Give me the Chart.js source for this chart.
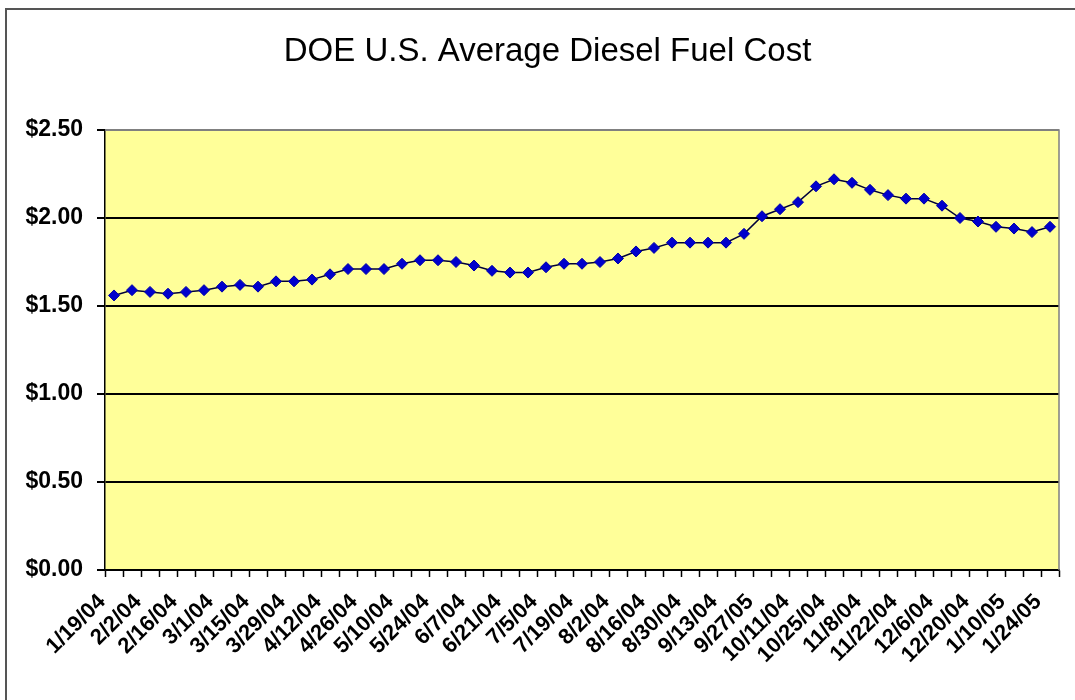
<!DOCTYPE html>
<html>
<head>
<meta charset="utf-8">
<script src="https://cdn.jsdelivr.net/npm/chart.js@4.4.1/dist/chart.umd.min.js"></script>
<style>
  html, body { margin: 0; padding: 0; background: #fff; overflow: hidden; }
  #wrap { position: relative; width: 1075px; height: 700px; }
  #frame { position: absolute; left: 5px; top: 8px; width: 2000px; height: 2000px;
           border-left: 2px solid #555; border-top: 2px solid #555; pointer-events: none; }
  canvas { position: absolute; left: 0; top: 0; }
</style>
</head>
<body>
<div id="wrap">
  <canvas id="c" width="1075" height="700"></canvas>
  <div id="frame"></div>
</div>
<script>
const weeks = [
  "1/19/04","1/26/04","2/2/04","2/9/04","2/16/04","2/23/04","3/1/04","3/8/04","3/15/04","3/22/04",
  "3/29/04","4/5/04","4/12/04","4/19/04","4/26/04","5/3/04","5/10/04","5/17/04","5/24/04","5/31/04",
  "6/7/04","6/14/04","6/21/04","6/28/04","7/5/04","7/12/04","7/19/04","7/26/04","8/2/04","8/9/04",
  "8/16/04","8/23/04","8/30/04","9/6/04","9/13/04","9/20/04","9/27/05","10/4/04","10/11/04","10/18/04",
  "10/25/04","11/1/04","11/8/04","11/15/04","11/22/04","11/29/04","12/6/04","12/13/04","12/20/04","1/3/05",
  "1/10/05","1/17/05","1/24/05"
];
const dieselPrice = [
  1.56,1.59,1.58,1.57,1.58,1.59,1.61,1.62,1.61,1.64,
  1.64,1.65,1.68,1.71,1.71,1.71,1.74,1.76,1.76,1.75,
  1.73,1.70,1.69,1.69,1.72,1.74,1.74,1.75,1.77,1.81,
  1.83,1.86,1.86,1.86,1.86,1.91,2.01,2.05,2.09,2.18,
  2.22,2.20,2.16,2.13,2.11,2.11,2.07,2.00,1.98,1.95,
  1.94,1.92,1.95
];
const yTicks = [0, 0.5, 1.0, 1.5, 2.0, 2.5];
const labelEvery = 2;
const chartTitle = "DOE U.S. Average Diesel Fuel Cost";

const plotBg = {
  id: 'plotBg',
  beforeDraw(chart) {
    const a = chart.chartArea, ctx = chart.ctx;
    ctx.save();
    ctx.fillStyle = '#FFFF99';
    ctx.fillRect(a.left, a.top, a.right - a.left, a.bottom - a.top);
    ctx.restore();
  }
};
const plotBorder = {
  id: 'plotBorder',
  beforeDatasetsDraw(chart) {
    const a = chart.chartArea, ctx = chart.ctx;
    ctx.save();
    ctx.strokeStyle = '#808080';
    ctx.lineWidth = 1.5;
    ctx.beginPath();
    ctx.moveTo(a.left, a.top);
    ctx.lineTo(a.right, a.top);
    ctx.lineTo(a.right, a.bottom);
    ctx.stroke();
    ctx.restore();
  }
};

new Chart(document.getElementById('c'), {
  type: 'line',
  data: {
    labels: weeks,
    datasets: [{
      data: dieselPrice,
      borderColor: '#00003A',
      borderWidth: 1.5,
      pointStyle: 'rectRot',
      pointRadius: 5.5,
      pointBackgroundColor: '#0000CC',
      pointBorderColor: '#0000AA',
      pointBorderWidth: 1,
      tension: 0,
      clip: false
    }]
  },
  options: {
    responsive: false,
    animation: false,
    devicePixelRatio: 1,
    layout: { padding: { left: 20, right: 0, top: 0, bottom: 0 } },
    plugins: {
      legend: { display: false },
      tooltip: { enabled: false },
      title: {
        display: true,
        text: chartTitle,
        color: '#000',
        font: { family: 'Liberation Sans, Arial, sans-serif', size: 33, weight: 'normal', lineHeight: 1.2 },
        padding: { top: 32.2, bottom: 58.2 }
      }
    },
    scales: {
      x: {
        type: 'category',
        offset: true,
        afterFit(scale) { scale.height = 130; scale.paddingRight = 16; scale.paddingLeft = 0; },
        grid: {
          offset: true,
          drawOnChartArea: false,
          drawTicks: true,
          tickLength: 7,
          tickColor: '#000',
          tickWidth: 1.5
        },
        border: { display: true, color: '#000', width: 1.5 },
        ticks: {
          autoSkip: false,
          minRotation: 45,
          maxRotation: 45,
          padding: 12,
          labelOffset: -12,
          color: '#000',
          font: { family: 'Liberation Sans, Arial, sans-serif', size: 22, weight: 'bold' },
          callback(val, i) { return i % labelEvery === 0 ? this.getLabelForValue(val) : ''; }
        }
      },
      y: {
        min: 0,
        max: 2.5,
        afterFit(scale) { scale.width = 85; },
        afterBuildTicks(scale) { scale.ticks = yTicks.map(v => ({ value: v })); },
        grid: {
          color: (ctx) => (ctx.tick && ctx.tick.value === 2.5) ? '#808080' : '#000',
          lineWidth: 2,
          drawTicks: true,
          tickLength: 8,
          tickColor: '#000'
        },
        border: { display: true, color: '#000', width: 1.5 },
        ticks: {
          padding: 14,
          color: '#000',
          font: { family: 'Liberation Sans, Arial, sans-serif', size: 23, weight: 'bold' },
          callback(v) { return '$' + Number(v).toFixed(2); }
        }
      }
    }
  },
  plugins: [plotBg, plotBorder]
});
</script>
</body>
</html>
